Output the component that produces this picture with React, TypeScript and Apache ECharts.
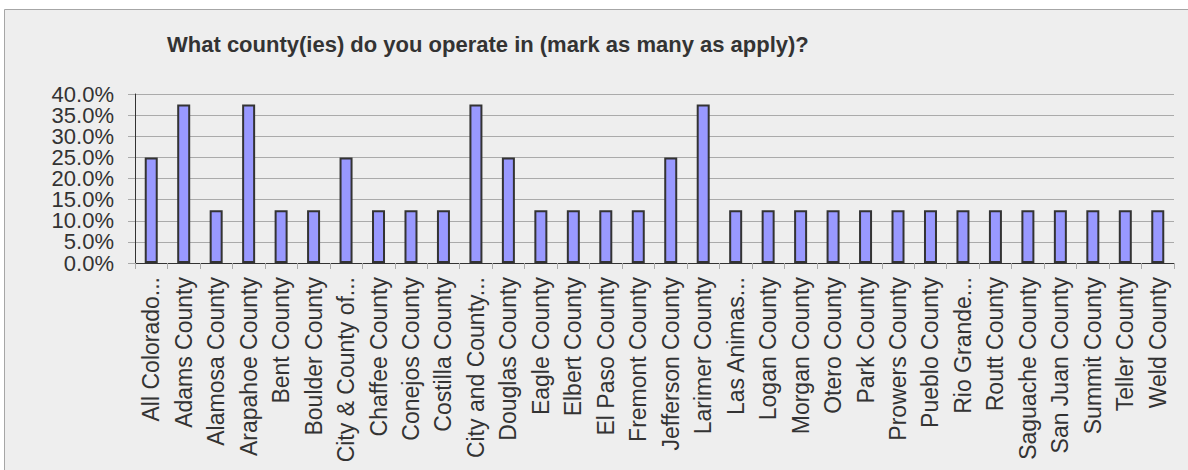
import React, { useEffect, useRef } from "react";
import * as echarts from "echarts";

const titleText = "What county(ies) do you operate in (mark as many as apply)?";

const categories = [
  "All Colorado...",
  "Adams County",
  "Alamosa County",
  "Arapahoe County",
  "Bent County",
  "Boulder County",
  "City & County of...",
  "Chaffee County",
  "Conejos County",
  "Costilla County",
  "City and County...",
  "Douglas County",
  "Eagle County",
  "Elbert County",
  "El Paso County",
  "Fremont County",
  "Jefferson County",
  "Larimer County",
  "Las Animas...",
  "Logan County",
  "Morgan County",
  "Otero County",
  "Park County",
  "Prowers County",
  "Pueblo County",
  "Rio Grande...",
  "Routt County",
  "Saguache County",
  "San Juan County",
  "Summit County",
  "Teller County",
  "Weld County",
];

const percentValues = [
  25, 37.5, 12.5, 37.5, 12.5, 12.5, 25, 12.5, 12.5, 12.5, 37.5, 25, 12.5, 12.5,
  12.5, 12.5, 25, 37.5, 12.5, 12.5, 12.5, 12.5, 12.5, 12.5, 12.5, 12.5, 12.5,
  12.5, 12.5, 12.5, 12.5, 12.5,
];

const yMin = 0;
const yMax = 40;
const yInterval = 5;

export default function App() {
  const ref = useRef<HTMLDivElement>(null);

  useEffect(() => {
    if (!ref.current) return;
    const chart = echarts.init(ref.current, null, { renderer: "svg" });
    const font = "'Liberation Sans', Arial, sans-serif";
    const fmt = (v: number) => v.toFixed(1) + "%";
    const isEven = (v: number) => Math.round(v / yInterval) % 2 === 0;
    const yLabelBase = {
      margin: 21,
      fontSize: 22,
      color: "#333333",
      fontFamily: font,
      showMinLabel: true,
      showMaxLabel: true,
      hideOverlap: false,
    };
    chart.setOption({
      animation: false,
      backgroundColor: "#ffffff",
      textStyle: { fontFamily: font },
      graphic: [
        {
          type: "rect",
          z: -10,
          silent: true,
          shape: { x: 4.5, y: 9.5, width: 1200, height: 480 },
          style: { fill: "#eeeeee", stroke: "#a6a6a6", lineWidth: 1 },
        },
      ],
      title: {
        text: titleText,
        left: 167,
        top: 33,
        padding: 0,
        textStyle: {
          fontFamily: font,
          fontSize: 22,
          fontWeight: "bold",
          color: "#333333",
        },
      },
      grid: { left: 135, right: 14, top: 94, bottom: 207, containLabel: false },
      xAxis: {
        type: "category",
        data: categories,
        boundaryGap: true,
        axisLine: { show: true, lineStyle: { color: "#333333", width: 1 } },
        axisTick: {
          show: true,
          length: 6,
          interval: 0,
          lineStyle: { color: "#aaaaaa" },
        },
        axisLabel: {
          interval: 0,
          rotate: 90,
          margin: 14,
          fontSize: 23,
          color: "#333333",
          fontFamily: font,
        },
        splitLine: { show: false },
      },
      yAxis: [
        {
          type: "value",
          position: "left",
          min: yMin,
          max: yMax,
          interval: yInterval,
          axisLine: { show: true, lineStyle: { color: "#333333", width: 1 } },
          axisTick: { show: true, length: 7, lineStyle: { color: "#aaaaaa" } },
          axisLabel: {
            ...yLabelBase,
            formatter: (v: number) => (isEven(v) ? fmt(v) : ""),
          },
          splitLine: { show: true, lineStyle: { color: "#aaaaaa", width: 1 } },
        },
        {
          type: "value",
          position: "left",
          offset: 0,
          min: yMin,
          max: yMax,
          interval: yInterval,
          axisLine: { show: false },
          axisTick: { show: false },
          axisLabel: {
            ...yLabelBase,
            formatter: (v: number) => (isEven(v) ? "" : fmt(v)),
          },
          splitLine: { show: false },
        },
      ],
      series: [
        {
          type: "bar",
          yAxisIndex: 0,
          data: percentValues,
          barWidth: 13,
          itemStyle: {
            color: "#9999ff",
            borderColor: "#333333",
            borderWidth: 2,
          },
        },
      ],
    });
    return () => chart.dispose();
  }, []);

  return (
    <div
      ref={ref}
      style={{ position: "absolute", left: 0, top: 0, width: 1188, height: 470 }}
    />
  );
}
